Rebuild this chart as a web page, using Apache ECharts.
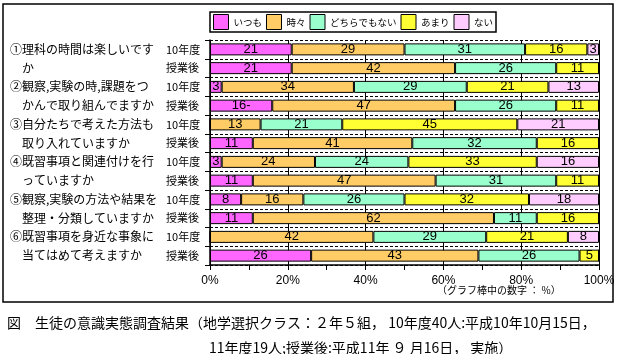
<!DOCTYPE html>
<html>
<head>
<meta charset="utf-8">
<script src="https://cdn.jsdelivr.net/npm/echarts@6/dist/echarts.min.js"></script>
<style>
  html, body { margin: 0; padding: 0; background: #fff; }
  #main { width: 619px; height: 354px; }
</style>
</head>
<body>
<div id="main"></div>
<script>
// 設問（2行に分けて表示）
var questionLines = [
  '①理科の時間は楽しいです', 'か',
  '②観察,実験の時,課題をつ', 'かんで取り組んでますか',
  '③自分たちで考えた方法も', '取り入れていますか',
  '④既習事項と関連付けを行', 'っていますか',
  '⑤観察,実験の方法や結果を', '整理・分類していますか',
  '⑥既習事項を身近な事象に', '当てはめて考えますか'
];
var periods = ['10年度', '授業後', '10年度', '授業後', '10年度', '授業後',
               '10年度', '授業後', '10年度', '授業後', '10年度', '授業後'];

// 回答の割合（%）
var answerNames = ['いつも', '時々', 'どちらでもない', 'あまり', 'ない'];
var itsumo   = [21, 21, 3, 16, 0, 11, 3, 11, 8, 11, 0, 26];
var tokidoki = [29, 42, 34, 47, 13, 41, 24, 47, 16, 62, 42, 43];
var dochira  = [31, 26, 29, 26, 21, 32, 24, 31, 26, 11, 29, 26];
var amari    = [16, 11, 21, 11, 45, 16, 33, 11, 32, 16, 21, 5];
var nai      = [3, 0, 13, 0, 21, 0, 16, 0, 18, 0, 8, 0];

var xTicks = [0, 20, 40, 60, 80, 100];

var captionLine1 = '図　生徒の意識実態調査結果（地学選択クラス：２年５組， 10年度40人:平成10年10月15日，';
var captionLine2 = '11年度19人;授業後:平成11年 ９ 月16日， 実施）';
var unitNote = '（グラフ棒中の数字 ： %）';

var colors = ['#ff66ff', '#ffcc66', '#99ffcc', '#ffff33', '#ffccff'];
var seriesValues = [itsumo, tokidoki, dochira, amari, nai];

var myChart = echarts.init(document.getElementById('main'));

var categories = questionLines.map(function (q, i) { return String(i); });

var series = seriesValues.map(function (vals, k) {
  return {
    name: answerNames[k],
    type: 'bar',
    stack: 'all',
    barWidth: 12,
    data: vals.map(function (v, i) {
      // 2つ目の設問・授業後の表記は原図のまま
      if (k === 0 && i === 3) {
        return { value: v, label: { formatter: '16-' } };
      }
      return v;
    }),
    itemStyle: { color: colors[k], borderColor: '#000', borderWidth: 1 },
    label: {
      show: true,
      position: 'inside',
      color: '#000',
      fontSize: 13,
      fontFamily: 'Liberation Sans Narrow, Liberation Sans, sans-serif',
      formatter: function (p) { return p.value > 0 ? String(p.value) : ''; }
    },
    emphasis: { disabled: true }
  };
});

var option = {
  animation: false,
  backgroundColor: '#fff',
  title: [
    {
      text: captionLine1, left: 2, top: 311,
      textStyle: { fontSize: 14, fontWeight: 'normal', color: '#000', fontFamily: 'Noto Sans CJK JP' }
    },
    {
      text: captionLine2, left: 204, top: 336,
      textStyle: { fontSize: 14, fontWeight: 'normal', color: '#000', fontFamily: 'Noto Sans CJK JP' }
    }
  ],
  legend: {
    left: 210,
    top: 12,
    padding: [2, 3],
    itemWidth: 15,
    itemHeight: 15,
    itemGap: 4,
    icon: 'rect',
    borderColor: '#000',
    borderWidth: 1.5,
    selectedMode: false,
    itemStyle: { borderColor: '#000', borderWidth: 1 },
    textStyle: { fontSize: 9.5, color: '#000', fontFamily: 'Noto Sans CJK JP', width: 60 },
    data: answerNames.map(function (n, k) {
      return k === answerNames.length - 1 ? { name: n, textStyle: { width: 24 } } : { name: n };
    })
  },
  graphic: [
    {
      type: 'rect',
      shape: { x: 3, y: 4, width: 610, height: 298 },
      style: { fill: 'none', stroke: '#000', lineWidth: 1.5 },
      z: -1
    },
    {
      type: 'text',
      left: 437,
      top: 285,
      style: { text: unitNote, fontSize: 10, fill: '#000', fontFamily: 'Noto Sans CJK JP' }
    }
  ],
  grid: { left: 210, right: 20, top: 40, bottom: 89 },
  xAxis: {
    type: 'value',
    min: xTicks[0],
    max: xTicks[xTicks.length - 1],
    interval: xTicks[1] - xTicks[0],
    axisLine: { show: true, lineStyle: { color: '#000', width: 1.5 } },
    axisTick: { show: true, length: 5, lineStyle: { color: '#000' } },
    minorTick: { show: true, splitNumber: 2, length: 5, lineStyle: { color: '#000' } },
    splitLine: { show: true, lineStyle: { color: '#000', width: 1 } },
    axisLabel: {
      color: '#000', fontSize: 12, margin: 10,
      fontFamily: 'Liberation Sans Narrow, Liberation Sans, sans-serif',
      formatter: '{value}%'
    }
  },
  yAxis: {
    type: 'category',
    inverse: true,
    data: categories,
    axisLine: { show: true, lineStyle: { color: '#000', width: 1.5 } },
    axisTick: { show: true, length: 5, lineStyle: { color: '#000' } },
    splitLine: { show: true, lineStyle: { color: '#000', type: [3, 2], width: 1 } },
    axisLabel: {
      margin: 8,
      formatter: function (v) {
        var i = Number(v);
        var qs = i % 2 === 0 ? 'q' : 'q2';
        return '{' + qs + '|' + questionLines[i] + '}{p|' + periods[i] + '}';
      },
      rich: {
        q: { width: 156, align: 'left', fontSize: 12, color: '#000', fontFamily: 'Noto Sans CJK JP' },
        q2: { width: 144, padding: [0, 0, 0, 12], align: 'left', fontSize: 12, color: '#000', fontFamily: 'Noto Sans CJK JP' },
        p: { width: 36, align: 'left', fontSize: 11, color: '#000', fontFamily: 'Noto Sans CJK JP' }
      }
    }
  },
  series: series
};

myChart.setOption(option);
</script>
</body>
</html>
